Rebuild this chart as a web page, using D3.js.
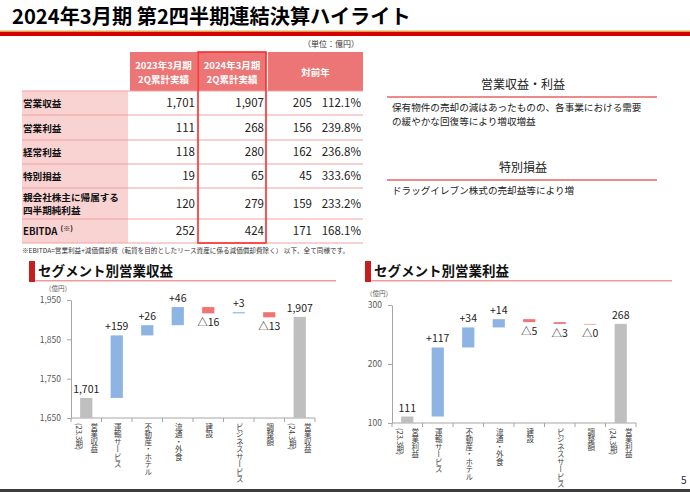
<!DOCTYPE html>
<html>
<head>
<meta charset="utf-8">
<script src="https://cdn.jsdelivr.net/npm/d3@7"></script>
<style>
body { margin: 0; background: #fff; }
svg { display: block; font-family: "Noto Sans CJK JP", "Noto Sans", sans-serif; }
</style>
</head>
<body>
<svg id="slide" width="690" height="492"></svg>
<script>
// ---- table data ----
const tableLabels = ["営業収益", "営業利益", "経常利益", "特別損益", "親会社株主に帰属する\n四半期純利益", "EBITDA"];
const prevValues = [1701, 111, 118, 19, 120, 252];
const currValues = [1907, 268, 280, 65, 279, 424];
const diffValues = [205, 156, 162, 45, 159, 171];
const ratioValues = [112.1, 239.8, 236.8, 333.6, 233.2, 168.1];
const tableHeaders = ["2023年3月期\n2Q累計実績", "2024年3月期\n2Q累計実績", "対前年"];

// ---- segment revenue waterfall ----
const revCategories = ["営業収益\n(23.3期)", "運輸サービス", "不動産・ホテル", "流通・外食", "建設", "ビジネスサービス", "調整額", "営業収益\n(24.3期)"];
const revValues = [1701, 159, 26, 46, -16, 3, -13, 1907];
const revTicks = [1650, 1750, 1850, 1950];

// ---- segment profit waterfall ----
const opCategories = ["営業利益\n(23.3期)", "運輸サービス", "不動産・ホテル", "流通・外食", "建設", "ビジネスサービス", "調整額", "営業利益\n(24.3期)"];
const opValues = [111, 117, 34, 14, -5, -3, -0.4, 268];
const opTicks = [100, 200, 300];

const C = {
  salmon: "#EC7676", pink: "#F9D2D2", sep: "#F2A2A2", hl: "#FF2A2A",
  gray: "#BFBFBF", blue: "#8DB4E2", red: "#EF7474", axis: "#A6A6A6", tick: "#595959"
};

const svg = d3.select("#slide");

// ---- page title ----
svg.append("text").attr("x", 12).attr("y", 23.5)
  .attr("font-size", 20.2).attr("font-weight", "bold").attr("fill", "#000")
  .text("2024年3月期 第2四半期連結決算ハイライト");
svg.append("rect").attr("x", 0).attr("y", 30.5).attr("width", 690).attr("height", 1.5).attr("fill", "#D9A550");
svg.append("rect").attr("x", 0).attr("y", 32).attr("width", 690).attr("height", 4).attr("fill", "#D60000");

// ---- table ----
const tb = {
  left: 22, right: 363,
  cols: [[130, 197], [198, 266], [268, 363]],
  headTop: 52, headH: 39,
  rowH: [24, 25, 24, 24, 31, 24]
};
const rowTops = [];
let yy = tb.headTop + tb.headH;
tb.rowH.forEach(h => { rowTops.push(yy); yy += h; });
const tableBottom = yy;

const table = svg.append("g");
table.append("text").attr("x", 359).attr("y", 47).attr("text-anchor", "end")
  .attr("font-size", 8).attr("fill", "#333").text("（単位：億円）");

table.append("rect").attr("x", tb.left).attr("y", rowTops[0])
  .attr("width", 128 - tb.left).attr("height", tableBottom - rowTops[0]).attr("fill", C.pink);

table.selectAll(".hcell").data(tableHeaders).join("rect")
  .attr("x", (d, i) => tb.cols[i][0]).attr("y", tb.headTop)
  .attr("width", (d, i) => tb.cols[i][1] - tb.cols[i][0]).attr("height", tb.headH)
  .attr("fill", C.salmon);

table.selectAll(".htext").data(tableHeaders).join("text")
  .attr("text-anchor", "middle").attr("font-size", 9.5).attr("font-weight", "bold").attr("fill", "#fff")
  .each(function (d, i) {
    const lines = d.split("\n");
    const cx = (tb.cols[i][0] + tb.cols[i][1]) / 2;
    const cy = tb.headTop + tb.headH / 2;
    d3.select(this).selectAll("tspan").data(lines).join("tspan")
      .attr("x", cx).attr("y", (l, j) => cy + 4 + (j - (lines.length - 1) / 2) * 14)
      .text(l => l);
  });

// row separators
table.selectAll(".sep").data(rowTops.concat([tableBottom])).join("line")
  .attr("x1", tb.left).attr("x2", tb.right).attr("y1", d => d).attr("y2", d => d)
  .attr("stroke", C.sep).attr("stroke-width", 1.2);

const rows = table.selectAll(".row").data(tableLabels).join("g")
  .attr("transform", (d, i) => `translate(0,${rowTops[i] + tb.rowH[i] / 2})`);

rows.append("text").attr("x", tb.left + 1).attr("font-size", 9.6).attr("font-weight", "bold").attr("fill", "#111")
  .each(function (d) {
    const lines = d.split("\n");
    const t = d3.select(this);
    if (d === "EBITDA") {
      t.attr("y", 4).text(d);
      t.append("tspan").attr("dx", 3).attr("dy", -4).attr("font-size", 7).text("(※)");
      return;
    }
    t.selectAll("tspan").data(lines).join("tspan")
      .attr("x", tb.left + 1).attr("y", (l, j) => 4 + (j - (lines.length - 1) / 2) * 13.5)
      .text(l => l);
  });

const fmt = d3.format(",");
rows.append("text").attr("x", 195).attr("y", 4).attr("text-anchor", "end")
  .attr("font-size", 11.5).attr("fill", "#222").text((d, i) => fmt(prevValues[i]));
rows.append("text").attr("x", 264).attr("y", 4).attr("text-anchor", "end")
  .attr("font-size", 11.5).attr("fill", "#222").text((d, i) => fmt(currValues[i]));
rows.append("text").attr("x", 312).attr("y", 4).attr("text-anchor", "end")
  .attr("font-size", 11.5).attr("fill", "#222").text((d, i) => fmt(diffValues[i]));
rows.append("text").attr("x", 361).attr("y", 4).attr("text-anchor", "end")
  .attr("font-size", 11.5).attr("fill", "#222").text((d, i) => ratioValues[i].toFixed(1) + "%");

table.append("rect").attr("x", tb.cols[1][0]).attr("y", tb.headTop)
  .attr("width", tb.cols[1][1] - tb.cols[1][0]).attr("height", tableBottom - tb.headTop)
  .attr("fill", "none").attr("stroke", C.hl).attr("stroke-width", 1.6);

table.append("text").attr("x", tb.left).attr("y", 253).attr("font-size", 6.6).attr("fill", "#333")
  .text("※EBITDA=営業利益+減価償却費（転貸を目的としたリース資産に係る減価償却費除く） 以下、全て同様です。");

// ---- right side comments ----
function commentBox(title, lines, yTitle) {
  svg.append("text").attr("x", 523).attr("y", yTitle).attr("text-anchor", "middle")
    .attr("font-size", 12).attr("fill", "#222").text(title);
  svg.append("rect").attr("x", 387).attr("y", yTitle + 7).attr("width", 270).attr("height", 2).attr("fill", "#EE8A8A");
  svg.append("g").selectAll("text").data(lines).join("text")
    .attr("x", 392).attr("y", (d, i) => yTitle + 22 + i * 13.8)
    .attr("font-size", 9.6).attr("fill", "#222").text(d => d);
}
commentBox("営業収益・利益", ["保有物件の売却の減はあったものの、各事業における需要", "の緩やかな回復等により増収増益"], 89);
commentBox("特別損益", ["ドラッグイレブン株式の売却益等により増"], 172);

// ---- waterfall charts ----
function sectionTitle(x, x2, text) {
  svg.append("rect").attr("x", x).attr("y", 261).attr("width", 6).attr("height", 21).attr("fill", "#C81E1E");
  svg.append("rect").attr("x", x + 6).attr("y", 280).attr("width", x2 - x - 6).attr("height", 1.5).attr("fill", "#F09A9A");
  svg.append("text").attr("x", x + 9).attr("y", 276).attr("font-size", 13.5).attr("font-weight", "bold")
    .attr("fill", "#111").text(text);
}

function waterfall(cfg, categories, values, ticks) {
  const n = categories.length;
  const y = d3.scaleLinear().domain([ticks[0], ticks[ticks.length - 1]]).range([cfg.bottom, cfg.top]);
  const x = d3.scaleBand().domain(d3.range(n)).range([cfg.left, cfg.right])
    .paddingInner(0.6).paddingOuter(0.3);

  let run = 0;
  const steps = values.map((v, i) => {
    if (i === 0 || i === n - 1) { run = v; return { i, v, lo: ticks[0], hi: v, total: true }; }
    const s = run; run += v;
    return { i, v, lo: Math.min(s, run), hi: Math.max(s, run), total: false };
  });

  const g = svg.append("g");

  g.append("g").attr("transform", `translate(${cfg.left},0)`)
    .call(d3.axisLeft(y).tickValues(ticks).tickSize(4).tickSizeOuter(0).tickFormat(d3.format(",")))
    .call(a => a.select(".domain").attr("stroke", C.axis))
    .call(a => a.selectAll(".tick line").attr("stroke", C.axis))
    .call(a => a.selectAll(".tick text").attr("fill", C.tick).attr("font-size", 8.5)
      .attr("font-family", "'Noto Sans CJK JP', sans-serif").attr("dx", -3));

  g.append("text").attr("x", cfg.left - 26).attr("y", cfg.top - 9).attr("font-size", 6.5)
    .attr("fill", C.tick).text("（億円）");

  // x axis with ticks on band edges
  g.append("line").attr("x1", cfg.left).attr("x2", cfg.right)
    .attr("y1", cfg.bottom).attr("y2", cfg.bottom).attr("stroke", C.axis);
  g.selectAll(".xt").data(d3.range(n + 1)).join("line")
    .attr("x1", i => cfg.left + i * x.step()).attr("x2", i => cfg.left + i * x.step())
    .attr("y1", cfg.bottom).attr("y2", cfg.bottom + 4).attr("stroke", C.axis);

  g.selectAll(".bar").data(steps).join("rect")
    .attr("x", d => x(d.i)).attr("width", x.bandwidth())
    .attr("y", d => y(d.hi)).attr("height", d => Math.max(1, y(d.lo) - y(d.hi)))
    .attr("fill", d => d.total ? C.gray : (d.v >= 0 ? C.blue : C.red))
    .attr("opacity", d => (!d.total && Math.abs(d.v) < 1) ? 0.6 : 1);

  g.selectAll(".lbl").data(steps).join("text")
    .attr("x", d => x(d.i) + x.bandwidth() / 2)
    .attr("y", d => (d.total || d.v >= 0) ? y(d.hi) - 5 : y(d.lo) + 13)
    .attr("text-anchor", "middle").attr("font-size", 10.5).attr("fill", "#222")
    .text(d => d.total ? fmt(d.v) : (d.v >= 0 ? "+" + d.v : "△" + Math.abs(Math.round(d.v))));

  g.selectAll(".cat").data(categories).join("g")
    .each(function (d, i) {
      const lines = d.split("\n");
      const cx = x(i) + x.bandwidth() / 2;
      d3.select(this).selectAll("text").data(lines).join("text")
        .attr("x", (l, j) => cx + (lines.length === 1 ? 1 : (j === 0 ? 8 : -7)))
        .attr("y", cfg.bottom + 5)
        .style("writing-mode", "vertical-rl")
        .attr("font-size", 7.5).attr("fill", "#404040")
        .text(l => l);
    });
}

sectionTitle(29, 336, "セグメント別営業収益");
waterfall({ left: 71, right: 315, top: 300, bottom: 418 }, revCategories, revValues, revTicks);

sectionTitle(365, 672, "セグメント別営業利益");
waterfall({ left: 392, right: 636, top: 305, bottom: 423 }, opCategories, opValues, opTicks);

// ---- footer ----
svg.append("text").attr("x", 681).attr("y", 484).attr("font-size", 10).attr("fill", "#1F2A44").text("5");
svg.append("rect").attr("x", 0).attr("y", 489).attr("width", 690).attr("height", 3).attr("fill", "#3C3C3C");
</script>
</body>
</html>
